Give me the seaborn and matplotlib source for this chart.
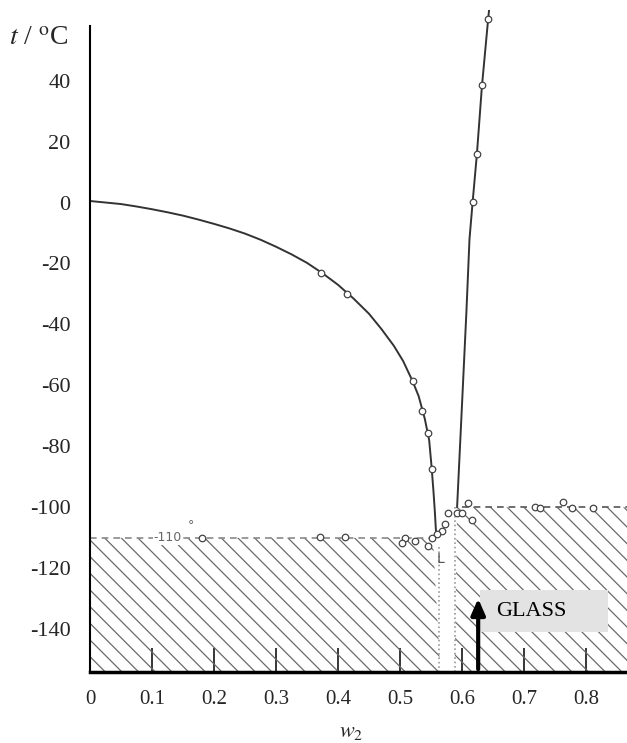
import numpy as np
import pandas as pd
import matplotlib
matplotlib.use("Agg")
import matplotlib.pyplot as plt
from matplotlib.patches import Rectangle
import seaborn as sns

# liquidus branches (w2, t / oC)
ice_w = [0.0, 0.025, 0.05, 0.075, 0.10, 0.125, 0.15, 0.175, 0.20, 0.225, 0.25, 0.275, 0.30, 0.325,
         0.35, 0.375, 0.40, 0.425, 0.45, 0.47, 0.49, 0.505, 0.52, 0.53, 0.54, 0.547, 0.551, 0.554, 0.556, 0.558]
ice_t = [0.5, 0.0, -0.5, -1.3, -2.2, -3.2, -4.3, -5.6, -7.0, -8.5, -10.2, -12.2, -14.5, -17.0,
         -19.8, -23.2, -27.0, -31.5, -36.5, -41.5, -47.0, -52.0, -58.5, -63.5, -71.0, -78.0, -87.0, -95.0, -101.0, -108.0]
salt_w = [0.592, 0.600, 0.607, 0.612, 0.617, 0.624, 0.632, 0.642, 0.646]
salt_t = [-100.0, -66.0, -36.0, -12.0, 0.0, 16.0, 38.0, 60.0, 68.0]

# measured points
pts_w = [0.373, 0.414, 0.521, 0.535, 0.545, 0.551,
         0.617, 0.624, 0.632, 0.642,
         0.610, 0.592, 0.600, 0.578, 0.616, 0.573, 0.568, 0.560, 0.551, 0.545, 0.524, 0.508, 0.503,
         0.180, 0.371, 0.411, 0.718, 0.726, 0.763, 0.777, 0.811]
pts_t = [-23.2, -30.0, -58.7, -68.4, -75.5, -87.4,
         0.3, 15.8, 38.4, 60.3,
         -98.7, -102.0, -102.0, -102.0, -104.0, -105.5, -107.7, -108.7, -110.0, -112.6, -111.0, -110.0, -111.6,
         -110.0, -109.7, -109.7, -100.0, -100.3, -98.4, -100.3, -100.3]

# glass transition regions
glass_left_w = [0.0, 0.553, 0.565]
glass_left_t = [-110.0, -110.0, -154.0]
glass_right_w = [0.588, 0.592, 0.866]
glass_right_t = [-154.0, -100.0, -100.0]

x_ticks = [0, 0.1, 0.2, 0.3, 0.4, 0.5, 0.6, 0.7, 0.8]
y_ticks = [-140, -120, -100, -80, -60, -40, -20, 0, 20, 40]

sns.set_theme(style="white")
plt.rcParams['font.family'] = ['Liberation Serif', 'DejaVu Serif']
plt.rcParams['mathtext.fontset'] = 'stix'
plt.rcParams['hatch.linewidth'] = 0.9
plt.rcParams['hatch.color'] = '#6a6a6a'

fig = plt.figure(figsize=(6.27, 7.43), dpi=100)
ax = fig.add_axes([0.1435, 0.0956, 0.8565, 0.8903])

xmin, xmax = 0.0, 0.866
ymin, ymax = -154.0, 63.0

# hatched glass regions
ax.fill_between(glass_left_w, glass_left_t, ymin, facecolor='none', edgecolor='#6a6a6a',
                hatch='\\\\', linewidth=0)
ax.fill_between(glass_right_w, glass_right_t, ymin, facecolor='none', edgecolor='#6a6a6a',
                hatch='\\\\', linewidth=0)

# dashed glass lines and dotted verticals
ax.plot([0.0, 0.55], [-110, -110], ls=(0, (4, 3)), color='#8a8a8a', lw=1.2)
ax.plot([0.6, xmax], [-100, -100], ls=(0, (4, 3)), color='#555555', lw=1.2)
ax.plot([0.563, 0.563], [-113, ymin], ls=':', color='#999999', lw=1.2)
ax.plot([0.588, 0.588], [-100, ymin], ls=':', color='#999999', lw=1.2)

curves = pd.concat([
    pd.DataFrame({'w': ice_w, 't': ice_t, 'branch': 'ice'}),
    pd.DataFrame({'w': salt_w, 't': salt_t, 'branch': 'salt'}),
])
sns.lineplot(data=curves, x='w', y='t', units='branch', estimator=None, sort=False,
             color='#333333', lw=1.4, ax=ax, legend=False)

pts = pd.DataFrame({'w': pts_w, 't': pts_t})
sns.scatterplot(data=pts, x='w', y='t', marker='o', s=22, facecolor='white',
                edgecolor='#444444', linewidth=0.9, ax=ax, zorder=5)

ax.text(0.125, -110, '-110', fontsize=9, color='#666666', family='DejaVu Sans',
        ha='center', va='center', bbox=dict(facecolor='white', edgecolor='none', pad=0.5))
ax.text(0.163, -106, '°', fontsize=9, color='#666666', family='DejaVu Sans', ha='center', va='center')
ax.text(0.566, -117, 'L', fontsize=10, color='#555555', family='DejaVu Sans', ha='center', va='center')

# GLASS label with arrow
ax.add_patch(Rectangle((0.629, -141), 0.206, 14, facecolor='#e3e3e3', edgecolor='none', zorder=6))
ax.text(0.655, -134, 'GLASS', fontsize=16, color='black', ha='left', va='center', zorder=7)
ax.annotate('', xy=(0.626, -129), xytext=(0.626, ymin),
            arrowprops=dict(arrowstyle='-|>,head_width=0.35,head_length=0.8', color='black', lw=3),
            zorder=8)

ax.set_xlim(xmin, xmax)
ax.set_ylim(ymin, ymax)
ax.set_xticks(x_ticks)
ax.set_xticklabels(['0' if v == 0 else f'{v:.1f}' for v in x_ticks])
ax.set_yticks(y_ticks)
ax.set_yticklabels([str(v) for v in y_ticks])
ax.tick_params(axis='x', bottom=True, direction='in', length=17, width=1.1, color='black',
               pad=13, labelsize=15)
ax.tick_params(axis='y', left=False, length=0, pad=14, labelsize=16)
ax.set_xlabel('')
ax.set_ylabel('')

sns.despine(ax=ax)
ax.spines['left'].set_bounds(ymin, 58)
ax.spines['left'].set_linewidth(1.5)
ax.spines['bottom'].set_linewidth(2.5)
ax.spines['left'].set_color('black')
ax.spines['bottom'].set_color('black')

fig.text(0.015, 0.948, r'$t$ / $^{\rm o}$C', fontsize=20, ha='left', va='center')
fig.text(0.56, 0.0135, r'$w_2$', fontsize=16, ha='center', va='center')

fig.savefig('out.png', dpi=100, facecolor='white')
